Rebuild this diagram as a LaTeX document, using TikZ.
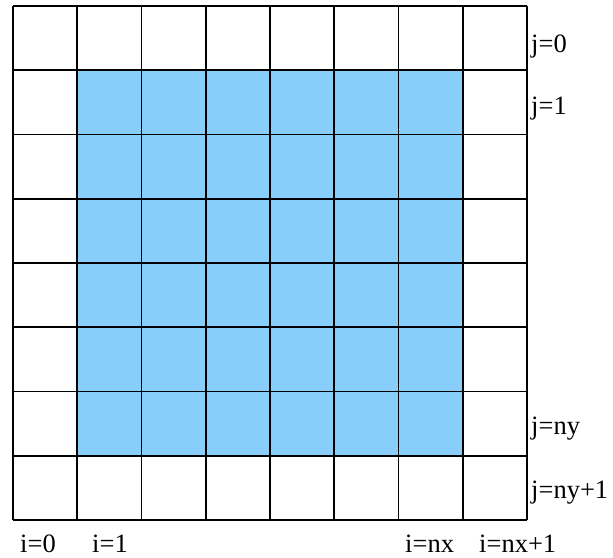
\documentclass[tikz,border=0pt]{standalone}
\usepackage{fontspec}
\setmainfont{Liberation Serif}
\definecolor{cellblue}{RGB}{135,206,250}
\tikzset{
  gridline/.style={line width=1.6pt, black},
  lab/.style={anchor=base west, inner sep=0pt, font=\fontsize{26.5}{28}\selectfont}
}
\begin{document}
\begin{tikzpicture}[x=1pt,y=-1pt]
\useasboundingbox (0,0) rectangle (613,557);
\fill[cellblue] (77.25,70.25) rectangle (462.75,456.75);
\foreach \k in {0,...,8}{
  \draw[gridline] (13+\k*64.25,6) -- (13+\k*64.25,520);
  \draw[gridline] (13,6+\k*64.25) -- (527,6+\k*64.25);
}
\node[lab] (j0) at (531,52) {j=0};
\node[lab] (j1) at (531,114) {j=1};
\node[lab] (jny) at (531,434) {j=ny};
\node[lab] (jny1) at (531,498) {j=ny+1};
\node[lab] (i0) at (20,552) {i=0};
\node[lab] (i1) at (92,552) {i=1};
\node[lab] (inx) at (405,552) {i=nx};
\node[lab] (inx1) at (479,552) {i=nx+1};
\end{tikzpicture}
\end{document}
